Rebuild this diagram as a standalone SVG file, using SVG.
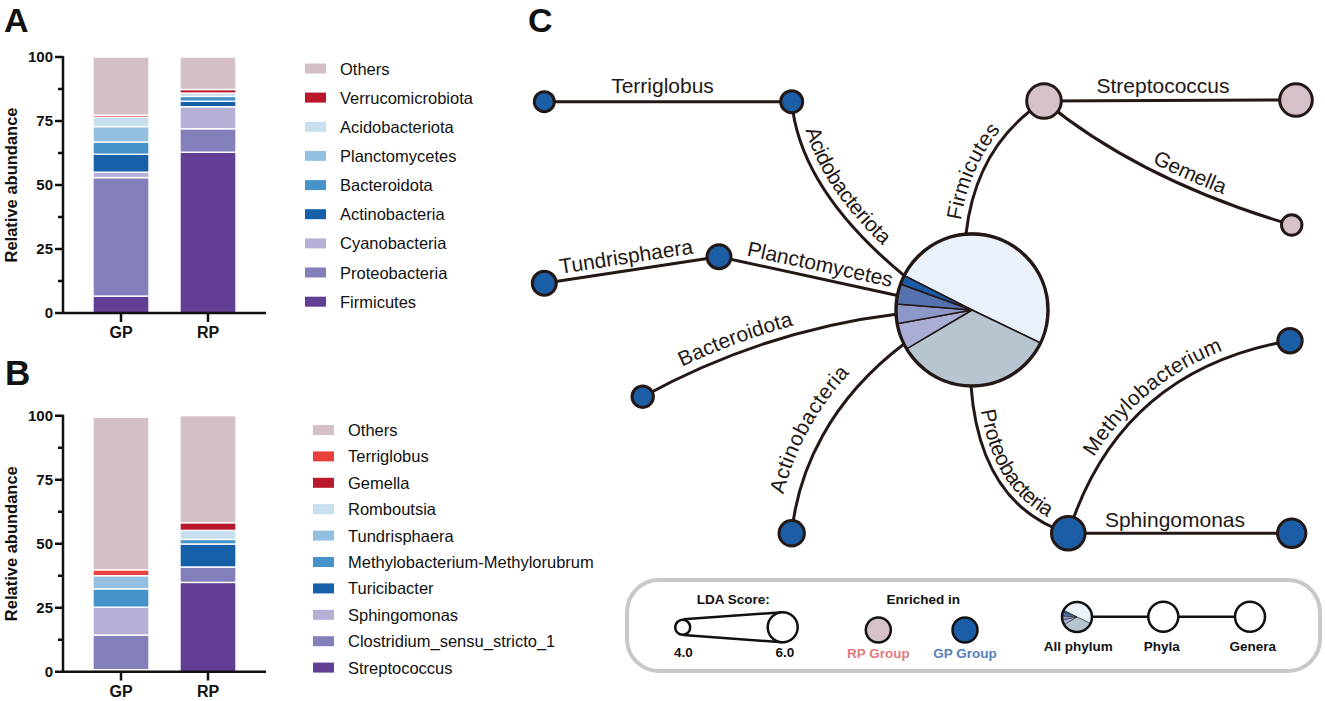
<svg xmlns="http://www.w3.org/2000/svg" xmlns:xlink="http://www.w3.org/1999/xlink" width="1325" height="701" viewBox="0 0 1325 701">
<style>
text{font-family:"Liberation Sans",Arial,Helvetica,sans-serif;fill:#111}
.pl{font-weight:bold}
.tick{font-weight:bold;font-size:15px;text-anchor:end}
.xl{font-weight:bold;font-size:16px;text-anchor:middle}
.yl{font-weight:bold;font-size:16.5px;text-anchor:middle}
.lg{font-size:16.5px}
.ax{stroke:#111;stroke-width:2.5;fill:none}
.seg rect{stroke:#fff;stroke-width:1.4}
.c-oth{fill:#d5bfc6}.c-ver{fill:#b8182a}.c-ter{fill:#e8403a}.c-aci{fill:#c8dff0}.c-pla{fill:#93bfe1}.c-bac{fill:#4593c9}.c-act{fill:#1560a9}.c-cya{fill:#b4b0d6}.c-pro{fill:#837fbb}.c-fir{fill:#623f95}
.edge{stroke:#231815;stroke-width:3;fill:none}
.node{stroke:#231815;stroke-width:3}
.gp{fill:#1b5ea5}.rp{fill:#d5c2c8}
.el{font-size:21px;fill:#231815}
.slice{stroke:#231815;stroke-width:1.5}
.lgd{font-weight:bold;font-size:13.5px;text-anchor:middle}
</style>

<!-- Panel A -->
<g id="panelA">
<text class="pl" x="4" y="32" font-size="34">A</text>
<g class="seg">
<rect class="c-fir" x="93" y="296.1" width="56" height="16.9"/>
<rect class="c-pro" x="93" y="177.6" width="56" height="118.5"/>
<rect class="c-cya" x="93" y="172.2" width="56" height="5.4"/>
<rect class="c-act" x="93" y="154.3" width="56" height="17.9"/>
<rect class="c-bac" x="93" y="142" width="56" height="12.3"/>
<rect class="c-pla" x="93" y="126.6" width="56" height="15.4"/>
<rect class="c-aci" x="93" y="117.2" width="56" height="9.4"/>
<rect class="c-ver" x="93" y="115.1" width="56" height="2.1"/>
<rect class="c-oth" x="93" y="57" width="56" height="58.1"/>
<rect class="c-fir" x="180" y="152.2" width="56" height="160.8"/>
<rect class="c-pro" x="180" y="128.7" width="56" height="23.5"/>
<rect class="c-cya" x="180" y="106.7" width="56" height="22"/>
<rect class="c-act" x="180" y="101.3" width="56" height="5.4"/>
<rect class="c-bac" x="180" y="96.4" width="56" height="4.9"/>
<rect class="c-aci" x="180" y="93.1" width="56" height="3.3"/>
<rect class="c-ver" x="180" y="89.5" width="56" height="3.6"/>
<rect class="c-oth" x="180" y="57" width="56" height="32.5"/>
</g>
<path class="ax" d="M63,56 V313 H266 M55,57 H63 M55,121 H63 M55,185 H63 M55,249 H63 M55,313 H63 M58,89 H63 M58,153 H63 M58,217 H63 M58,281 H63 M121,313 V322 M208,313 V322"/>
<text class="tick" x="53" y="62">100</text>
<text class="tick" x="53" y="126">75</text>
<text class="tick" x="53" y="190">50</text>
<text class="tick" x="53" y="254">25</text>
<text class="tick" x="53" y="318">0</text>
<text class="xl" x="121" y="338">GP</text>
<text class="xl" x="208" y="338">RP</text>
<text class="yl" transform="translate(17,185) rotate(-90)">Relative abundance</text>
<g id="legendA">
<rect class="c-oth" x="305" y="63.5" width="21" height="10"/><text class="lg" x="340" y="74.5">Others</text>
<rect class="c-ver" x="305" y="92.6" width="21" height="10"/><text class="lg" x="340" y="103.6">Verrucomicrobiota</text>
<rect class="c-aci" x="305" y="121.8" width="21" height="10"/><text class="lg" x="340" y="132.8">Acidobacteriota</text>
<rect class="c-pla" x="305" y="150.9" width="21" height="10"/><text class="lg" x="340" y="161.9">Planctomycetes</text>
<rect class="c-bac" x="305" y="180.1" width="21" height="10"/><text class="lg" x="340" y="191.1">Bacteroidota</text>
<rect class="c-act" x="305" y="209.2" width="21" height="10"/><text class="lg" x="340" y="220.2">Actinobacteria</text>
<rect class="c-cya" x="305" y="238.4" width="21" height="10"/><text class="lg" x="340" y="249.4">Cyanobacteria</text>
<rect class="c-pro" x="305" y="267.5" width="21" height="10"/><text class="lg" x="340" y="278.5">Proteobacteria</text>
<rect class="c-fir" x="305" y="296.7" width="21" height="10"/><text class="lg" x="340" y="307.7">Firmicutes</text>
</g>
</g>

<!-- Panel B -->
<g id="panelB">
<text class="pl" x="5" y="385" font-size="35">B</text>
<g class="seg">
<rect class="c-cya" x="93" y="669.7" width="56" height="2"/>
<rect class="c-pro" x="93" y="635.1" width="56" height="34.6"/>
<rect class="c-cya" x="93" y="607.2" width="56" height="27.9"/>
<rect class="c-bac" x="93" y="588.8" width="56" height="18.4"/>
<rect class="c-pla" x="93" y="575.7" width="56" height="13.1"/>
<rect class="c-ter" x="93" y="569.8" width="56" height="5.9"/>
<rect class="c-oth" x="93" y="417.2" width="56" height="152.6"/>
<rect class="c-fir" x="180" y="582.4" width="56" height="89.3"/>
<rect class="c-pro" x="180" y="567" width="56" height="15.4"/>
<rect class="c-act" x="180" y="544" width="56" height="23"/>
<rect class="c-bac" x="180" y="539.4" width="56" height="4.6"/>
<rect class="c-aci" x="180" y="530.4" width="56" height="9"/>
<rect class="c-ver" x="180" y="522.7" width="56" height="7.7"/>
<rect class="c-oth" x="180" y="415.7" width="56" height="107"/>
</g>
<path class="ax" d="M63,414.7 V671.7 H266 M55,415.7 H63 M55,479.7 H63 M55,543.7 H63 M55,607.7 H63 M55,671.7 H63 M58,447.7 H63 M58,511.7 H63 M58,575.7 H63 M58,639.7 H63 M121,671.7 V680.5 M208,671.7 V680.5"/>
<text class="tick" x="53" y="420.7">100</text>
<text class="tick" x="53" y="484.7">75</text>
<text class="tick" x="53" y="548.7">50</text>
<text class="tick" x="53" y="612.7">25</text>
<text class="tick" x="53" y="676.7">0</text>
<text class="xl" x="121" y="696.5">GP</text>
<text class="xl" x="208" y="696.5">RP</text>
<text class="yl" transform="translate(17,543.7) rotate(-90)">Relative abundance</text>
<g id="legendB">
<rect class="c-oth" x="313" y="425" width="21" height="10"/><text class="lg" x="348" y="436">Others</text>
<rect class="c-ter" x="313" y="451.4" width="21" height="10"/><text class="lg" x="348" y="462.4">Terriglobus</text>
<rect class="c-ver" x="313" y="477.8" width="21" height="10"/><text class="lg" x="348" y="488.8">Gemella</text>
<rect class="c-aci" x="313" y="504.2" width="21" height="10"/><text class="lg" x="348" y="515.2">Romboutsia</text>
<rect class="c-pla" x="313" y="530.6" width="21" height="10"/><text class="lg" x="348" y="541.6">Tundrisphaera</text>
<rect class="c-bac" x="313" y="557" width="21" height="10"/><text class="lg" x="348" y="568">Methylobacterium-Methylorubrum</text>
<rect class="c-act" x="313" y="583.4" width="21" height="10"/><text class="lg" x="348" y="594.4">Turicibacter</text>
<rect class="c-cya" x="313" y="609.8" width="21" height="10"/><text class="lg" x="348" y="620.8">Sphingomonas</text>
<rect class="c-pro" x="313" y="636.2" width="21" height="10"/><text class="lg" x="348" y="647.2">Clostridium_sensu_stricto_1</text>
<rect class="c-fir" x="313" y="662.6" width="21" height="10"/><text class="lg" x="348" y="673.6">Streptococcus</text>
</g>
</g>

<!-- Panel C -->
<text class="pl" x="528" y="32" font-size="34">C</text>
<g id="connectors">
<path id="e-terri" class="edge" d="M544.3,101.7 L791.7,101.7"/>
<path id="e-acido" class="edge" d="M791.7,101.7 Q800,190 904.2,275.6"/>
<path id="e-tundra" class="edge" d="M544.3,283.3 L719,256.7"/>
<path id="e-plancto" class="edge" d="M719,256.7 L897.4,295.5"/>
<path id="e-bactero" class="edge" d="M642.7,396.7 Q765,330 896.1,314.2"/>
<path id="e-actino" class="edge" d="M791.7,533.3 C798,470 830,400 904,344"/>
<path id="e-firm" class="edge" d="M966,234 Q976,145 1044,101"/>
<path id="e-strep" class="edge" d="M1044,101 L1296,100"/>
<path id="e-gemella" class="edge" d="M1044,101 Q1140,180 1291.7,225"/>
<path id="e-proteo" class="edge" d="M971,386 Q980,505 1068.3,533.3"/>
<path id="e-sphingo" class="edge" d="M1068.3,533.3 L1291.7,533.3"/>
<path id="e-methylo" class="edge" d="M1068.3,533.3 Q1120,370 1290,340.7"/>
</g>
<g id="edge-labels">
<text class="el" x="662.5" y="93" text-anchor="middle">Terriglobus</text>
<text class="el" x="1163" y="92.7" text-anchor="middle">Streptococcus</text>
<text class="el" x="1175" y="527" text-anchor="middle">Sphingomonas</text>
<text class="el" dy="-8.5"><textPath href="#e-acido" xlink:href="#e-acido" startOffset="49%" text-anchor="middle">Acidobacteriota</textPath></text>
<text class="el" dy="-7"><textPath href="#e-tundra" xlink:href="#e-tundra" startOffset="48%" text-anchor="middle">Tundrisphaera</textPath></text>
<text class="el" dy="-7"><textPath href="#e-plancto" xlink:href="#e-plancto" startOffset="55%" text-anchor="middle">Planctomycetes</textPath></text>
<text class="el" dy="-9"><textPath href="#e-bactero" xlink:href="#e-bactero" startOffset="40%" text-anchor="middle">Bacteroidota</textPath></text>
<text class="el" dy="-15"><textPath href="#e-actino" xlink:href="#e-actino" startOffset="45%" text-anchor="middle">Actinobacteria</textPath></text>
<text class="el" dy="-7"><textPath href="#e-firm" xlink:href="#e-firm" startOffset="38%" text-anchor="middle">Firmicutes</textPath></text>
<text class="el" dy="-7"><textPath href="#e-gemella" xlink:href="#e-gemella" startOffset="59%" text-anchor="middle">Gemella</textPath></text>
<text class="el" dy="-7"><textPath href="#e-proteo" xlink:href="#e-proteo" startOffset="50%" text-anchor="middle">Proteobacteria</textPath></text>
<text class="el" dy="-8"><textPath href="#e-methylo" xlink:href="#e-methylo" startOffset="52%" text-anchor="middle">Methylobacterium</textPath></text>
</g>

<g id="node-allphylum">
<path class="slice" fill="#e9f1fa" d="M972,310 L904.2,275.6 A76,76 0 0,1 1040.5,343 Z"/>
<path class="slice" fill="#b6c5d0" d="M972,310 L1040.5,343 A76,76 0 0,1 906.6,348.8 Z"/>
<path class="slice" fill="#aaadd5" d="M972,310 L906.6,348.8 A76,76 0 0,1 897.2,323.7 Z"/>
<path class="slice" fill="#8d97c8" d="M972,310 L897.2,323.7 A76,76 0 0,1 896.2,303.9 Z"/>
<path class="slice" fill="#5672ae" d="M972,310 L896.2,303.9 A76,76 0 0,1 900.6,284 Z"/>
<path class="slice" fill="#1a5ca6" d="M972,310 L900.6,284 A76,76 0 0,1 904.2,275.6 Z"/>
<circle cx="972" cy="310" r="76" fill="none" stroke="#231815" stroke-width="3.5"/>
</g>
<g id="node-acidobacteriota"><circle class="node gp" cx="791.7" cy="101.7" r="11"/></g>
<g id="node-terriglobus"><circle class="node gp" cx="544.3" cy="101.7" r="10"/></g>
<g id="node-planctomycetes"><circle class="node gp" cx="719" cy="256.7" r="12"/></g>
<g id="node-tundrisphaera"><circle class="node gp" cx="544.3" cy="283.3" r="12"/></g>
<g id="node-bacteroidota"><circle class="node gp" cx="642.7" cy="396.7" r="10.7"/></g>
<g id="node-actinobacteria"><circle class="node gp" cx="791.7" cy="533.3" r="12.7"/></g>
<g id="node-firmicutes"><circle class="node rp" cx="1044" cy="101" r="17.3"/></g>
<g id="node-streptococcus"><circle class="node rp" cx="1296" cy="100" r="16.3"/></g>
<g id="node-gemella"><circle class="node rp" cx="1291.7" cy="225" r="10.2"/></g>
<g id="node-proteobacteria"><circle class="node gp" cx="1068.3" cy="533.3" r="16.8"/></g>
<g id="node-sphingomonas"><circle class="node gp" cx="1291.7" cy="533.3" r="14.2"/></g>
<g id="node-methylobacterium"><circle class="node gp" cx="1290" cy="340.7" r="12.2"/></g>

<g id="legendC">
<rect x="627" y="580" width="693" height="91" rx="32" ry="32" fill="#fff" stroke="#c8c8c8" stroke-width="4"/>
<text class="lgd" x="733.3" y="604.3">LDA Score:</text>
<path d="M683.3,619.3 L782.7,612.3 M683.3,635 L782.7,642.3" stroke="#111" stroke-width="2.5" fill="none"/>
<circle cx="682.7" cy="627.3" r="7.5" fill="#fff" stroke="#111" stroke-width="2.5"/>
<circle cx="782.7" cy="627.3" r="15" fill="#fff" stroke="#111" stroke-width="2.5"/>
<text class="lgd" x="683.3" y="656.7">4.0</text>
<text class="lgd" x="785" y="656.7">6.0</text>
<text class="lgd" x="923.3" y="604.3">Enriched in</text>
<circle class="rp" cx="878.3" cy="630" r="12.5" stroke="#111" stroke-width="2.5"/>
<circle class="gp" cx="965" cy="630" r="12.5" stroke="#111" stroke-width="2.5"/>
<text class="lgd" x="878.3" y="658.3" style="fill:#e07a7e">RP Group</text>
<text class="lgd" x="965" y="658.3" style="fill:#5580bb">GP Group</text>
<path d="M1092,616.7 H1148 M1178,616.7 H1235" stroke="#111" stroke-width="2.5"/>
<path fill="#e9f1fa" stroke="#333" stroke-width="0.6" d="M1077,617 L1063.6,610.2 A15,15 0 0,1 1090.5,623.5 Z"/>
<path fill="#b6c5d0" stroke="#333" stroke-width="0.6" d="M1077,617 L1090.5,623.5 A15,15 0 0,1 1064.1,624.7 Z"/>
<path fill="#aaadd5" stroke="#333" stroke-width="0.6" d="M1077,617 L1064.1,624.7 A15,15 0 0,1 1062.25,619.7 Z"/>
<path fill="#8d97c8" stroke="#333" stroke-width="0.6" d="M1077,617 L1062.25,619.7 A15,15 0 0,1 1062.05,615.8 Z"/>
<path fill="#5672ae" stroke="#333" stroke-width="0.6" d="M1077,617 L1062.05,615.8 A15,15 0 0,1 1062.9,611.9 Z"/>
<path fill="#1a5ca6" stroke="#333" stroke-width="0.6" d="M1077,617 L1062.9,611.9 A15,15 0 0,1 1063.6,610.2 Z"/>
<circle cx="1077" cy="617" r="15" fill="none" stroke="#111" stroke-width="2.5"/>
<circle cx="1163.3" cy="616.7" r="15" fill="#fff" stroke="#111" stroke-width="2.5"/>
<circle cx="1250" cy="616.7" r="15" fill="#fff" stroke="#111" stroke-width="2.5"/>
<text class="lgd" x="1078.3" y="651">All phylum</text>
<text class="lgd" x="1161.7" y="651">Phyla</text>
<text class="lgd" x="1252.7" y="651">Genera</text>
</g>
</svg>
